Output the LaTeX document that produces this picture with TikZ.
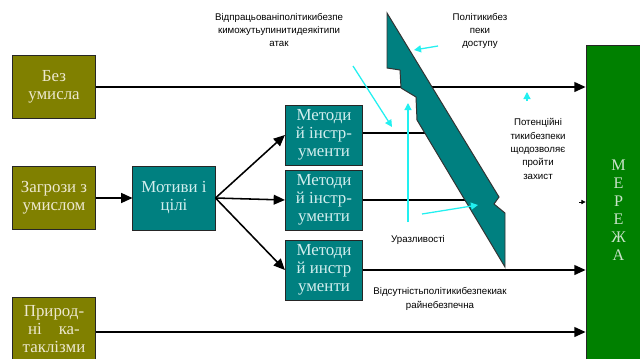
\documentclass[tikz,border=0pt]{standalone}
\usepackage{fontspec}
\setmainfont{Liberation Serif}
\newfontfamily\labelfont{Liberation Sans}
\usetikzlibrary{arrows.meta}

\definecolor{olivebox}{HTML}{808000}
\definecolor{tealbox}{HTML}{008080}
\definecolor{netgreen}{HTML}{008000}
\definecolor{olivetext}{HTML}{EDE8CF}
\definecolor{tealtext}{HTML}{D2EEEE}
\definecolor{nettext}{HTML}{C9E3C9}
\definecolor{hint}{HTML}{22F0F0}

\begin{document}
\begin{tikzpicture}[x=0.025cm,y=-0.025cm,
  box/.style={draw=black!85, line width=0.7pt, align=center, inner sep=1pt,
    font=\fontsize{12}{12.8}\selectfont},
  source/.style={box, fill=olivebox, text=olivetext,
    minimum width=2.05cm, minimum height=1.58cm},
  motive/.style={box, fill=tealbox, text=tealtext,
    minimum width=2.05cm, minimum height=1.6cm},
  method/.style={box, fill=tealbox, text=tealtext,
    minimum width=1.93cm, minimum height=1.5cm},
  flow/.style={line width=1.1pt, draw=black},
  flowarrow/.style={flow, -{Triangle[length=8pt,width=7pt]}},
  hintarrow/.style={draw=hint, line width=0.9pt, -{Triangle[length=5pt,width=5pt]}},
  note/.style={align=center, inner sep=0pt,
    font=\labelfont\fontsize{6.9}{9.5}\selectfont},
  barrier/.style={fill=tealbox, draw=black!80, line width=0.7pt, line join=miter}
]
\clip (0,0) rectangle (640,358);
\fill[white] (0,0) rectangle (640,358);

% sources of threats
\node[source] (noint) at (54,87) {Без\\умисла};
\node[source] (intent) at (54,198) {Загрози з\\умислом};
\node[source] (nature) at (54,329) {Природ-\\ні\quad ка-\\таклізми};

% motives and methods
\node[motive] (motive) at (174,198) {Мотиви і\\цілі};
\node[method] (m1) at (324,135) {Методи\\й інстр-\\ументи};
\node[method] (m2) at (324,200) {Методи\\й інстр-\\ументи};
\node[method] (m3) at (324,270) {Методи\\й инстр\\ументи};

% network
\node[box, fill=netgreen, text=nettext, minimum width=1.62cm, minimum height=8.2cm,
  font=\fontsize{11.5}{12.8}\selectfont] (net) at (618.5,210) {М\\Е\\Р\\Е\\Ж\\А};

% free ends of flows that stop at the barrier
\coordinate (stop1) at (430,133);
\coordinate (stop2) at (475,200);
\coordinate (stub) at (579,202);

% flows
\draw[flowarrow] (noint.east) -- (noint.east -| net.west);
\draw[flowarrow] (intent) -- (motive);
\draw[flowarrow] (motive.east) -- (m1.west);
\draw[flowarrow] (motive.east) -- (m2.west);
\draw[flowarrow] (motive.east) -- (m3.west);
\draw[flow] (m1.east |- stop1) -- (stop1);
\draw[flow] (m2.east) -- (stop2);
\draw[flowarrow] (m3.east) -- (m3.east -| net.west);
\draw[flowarrow] (nature.east |- 0,332) -- (net.west |- 0,332);
\draw[line width=0.6pt, -{Triangle[length=3pt,width=3pt]}] (stub) -- (stub -| net.west);

% security barrier
\draw[barrier] (387,13) -- (499,197) -- (494,204) -- (505,213) -- (505,267)
  -- (417,120) -- (416,97) -- (401,88) -- (400,70) -- (387,68) -- cycle;

% labels
\node[note] (lbl1) at (279,30) {Відпрацьованіполітикибезпе\\киможутьупинитидеякітипи\\атак};
\node[note] (lbl2) at (480,31) {Політикибез\\пеки\\доступу};
\node[note] (lbl3) at (538,149) {Потенційні\\тикибезпеки\\щодозволяє\\пройти\\захист};
\node[note] (lbl4) at (418,240) {Уразливості};
\node[note] (lbl5) at (440,299) {Відсутністьполітикибезпекиак\\райнебезпечна};

% pointers
\draw[hintarrow] (438,46) -- (414,50);
\draw[hintarrow] (353,66) -- (392,127);
\draw[hintarrow] (408,222) -- (408,103);
\draw[hintarrow] (422,214) -- (478,205);
\draw[hintarrow] (527,101) -- (527,92);
\end{tikzpicture}
\end{document}
